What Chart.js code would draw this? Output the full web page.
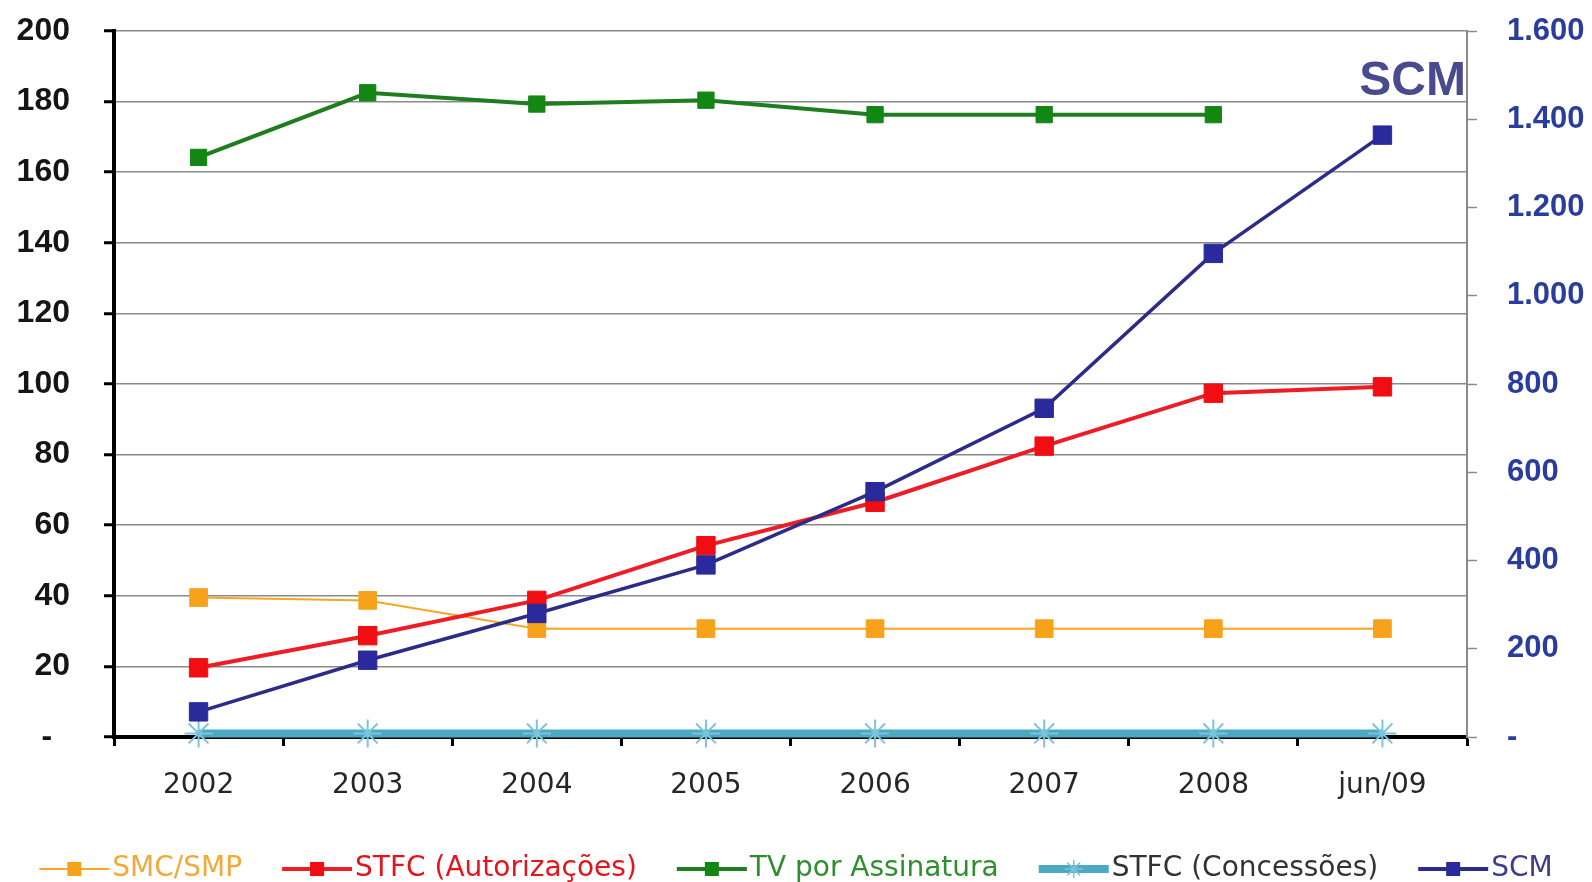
<!DOCTYPE html>
<html><head><meta charset="utf-8">
<script src="https://cdn.jsdelivr.net/npm/chart.js@4.4.1/dist/chart.umd.min.js"></script>
<style>html,body{margin:0;padding:0;background:#fff;} #wrap{width:1592px;height:882px;position:relative;}</style>
</head><body><div id="wrap"><canvas id="c"></canvas></div>
<script>
// ---- data ----
const categories = ['2002','2003','2004','2005','2006','2007','2008','jun/09'];
const seriesNames = ['SMC/SMP','STFC (Autorizações)','TV por Assinatura','STFC (Concessões)','SCM'];
const smcSmp = [39.5, 38.7, 30.7, 30.7, 30.7, 30.7, 30.7, 30.7];
const stfcAutorizacoes = [19.6, 28.7, 38.7, 54.2, 66.5, 82.4, 97.4, 99.2];
const tvAssinatura = [164.2, 182.5, 179.3, 180.4, 176.3, 176.3, 176.3, null];
const stfcConcessoes = [1, 1, 1, 1, 1, 1, 1, 1];
const scm = [57, 174, 280, 390, 556, 745, 1096, 1364];
const leftAxisRange = [0, 200, 20];
const rightAxisRange = [0, 1600, 200];
const cornerLabel = 'SCM';

// ---- styles ----
const legendTextColors = ['#f2a93a', '#e3141c', '#2f8f2f', '#333333', '#3d3d8c'];

function fmtThousands(v){
  if (v === 0) return '-';
  return String(v).replace(/\B(?=(\d{3})+(?!\d))/g, '.');
}

const legendPlugin = {
  id: 'customLegend',
  afterDraw(chart){
    const ctx = chart.ctx;
    ctx.save();
    ctx.font = '28px "DejaVu Sans"';
    ctx.textBaseline = 'middle';
    const lineW = 70, gapText = 3, gapItem = 40;
    const dss = chart.data.datasets;
    const widths = dss.map(ds => ctx.measureText(ds.label).width);
    let total = 0;
    widths.forEach(w => total += lineW + gapText + w);
    total += gapItem * (dss.length - 1);
    let x = (chart.width - total) / 2;
    const y = 869;
    dss.forEach((ds, i) => {
      ctx.strokeStyle = ds.borderColor;
      ctx.lineWidth = ds.legendLineWidth;
      ctx.beginPath(); ctx.moveTo(x, y); ctx.lineTo(x + lineW, y); ctx.stroke();
      const cx = x + lineW / 2;
      if (ds.pointStyle === 'rect') {
        ctx.fillStyle = ds.pointBackgroundColor;
        ctx.fillRect(cx - 7, y - 7, 14, 14);
      } else {
        ctx.strokeStyle = ds.pointBorderColor;
        ctx.lineWidth = 1.5;
        const r = 9;
        for (let k = 0; k < 4; k++) {
          const a = k * Math.PI / 4;
          ctx.beginPath();
          ctx.moveTo(cx - r * Math.sin(a), y - r * Math.cos(a));
          ctx.lineTo(cx + r * Math.sin(a), y + r * Math.cos(a));
          ctx.stroke();
        }
      }
      ctx.fillStyle = legendTextColors[i];
      ctx.textAlign = 'left';
      ctx.fillText(ds.label, x + lineW + gapText, y);
      x += lineW + gapText + widths[i] + gapItem;
    });
    // corner label
    ctx.font = 'bold 48px "Liberation Sans", Arial, sans-serif';
    ctx.fillStyle = '#4a4a8e';
    ctx.textAlign = 'right';
    ctx.textBaseline = 'alphabetic';
    ctx.fillText(cornerLabel, chart.chartArea.right - 1, 95);
    ctx.restore();
  }
};

new Chart(document.getElementById('c'), {
  type: 'line',
  data: {
    labels: categories,
    datasets: [
      { label: seriesNames[0], data: smcSmp, yAxisID: 'y', order: 4,
        borderColor: '#f5a623', borderWidth: 2, legendLineWidth: 2,
        pointStyle: 'rect', pointRadius: 12.5, pointBackgroundColor: '#f7a21b', pointBorderColor: '#f7a21b', pointBorderWidth: 1, clip: false },
      { label: seriesNames[1], data: stfcAutorizacoes, yAxisID: 'y', order: 3,
        borderColor: '#ee1c24', borderWidth: 4, legendLineWidth: 4,
        pointStyle: 'rect', pointRadius: 13, pointBackgroundColor: '#f20d12', pointBorderColor: '#f20d12', pointBorderWidth: 1, clip: false },
      { label: seriesNames[2], data: tvAssinatura, yAxisID: 'y', order: 2,
        borderColor: '#1f7d1f', borderWidth: 4, legendLineWidth: 4,
        pointStyle: 'rect', pointRadius: 11.5, pointBackgroundColor: '#138613', pointBorderColor: '#138613', pointBorderWidth: 1, clip: false },
      { label: seriesNames[3], data: stfcConcessoes, yAxisID: 'y', order: 1,
        borderColor: '#4aa9c3', borderWidth: 8, legendLineWidth: 8,
        pointStyle: 'star', pointRadius: 14, pointBackgroundColor: '#7cc4dc', pointBorderColor: '#7cc4dc', pointBorderWidth: 2, clip: false },
      { label: seriesNames[4], data: scm, yAxisID: 'y1', order: 0,
        borderColor: '#2c2c88', borderWidth: 3.5, legendLineWidth: 4,
        pointStyle: 'rect', pointRadius: 13, pointBackgroundColor: '#2a2a9c', pointBorderColor: '#2a2a9c', pointBorderWidth: 1, clip: false }
    ]
  },
  options: {
    responsive: true,
    maintainAspectRatio: false,
    devicePixelRatio: 1,
    animation: false,
    layout: { padding: { top: 31, left: 0, right: 0, bottom: 0 } },
    plugins: { legend: { display: false }, tooltip: { enabled: false } },
    elements: { line: { tension: 0 } },
    scales: {
      x: {
        offset: true,
        grid: { display: true, offset: true, drawOnChartArea: false, drawTicks: true, tickLength: 9, tickColor: '#000', tickWidth: 3, color: '#000' },
        border: { display: true, color: '#000', width: 4 },
        ticks: { color: '#262626', font: { family: 'DejaVu Sans', size: 28 }, padding: 23, maxRotation: 0, autoSkip: false },
        afterFit(s){ s.height = 145; s.paddingLeft = 0; s.paddingRight = 0; }
      },
      y: {
        position: 'left',
        min: leftAxisRange[0], max: leftAxisRange[1],
        grid: { color: '#8a8a8a', lineWidth: 1.5, drawTicks: true, tickLength: 10, tickColor: '#000', tickWidth: 3 },
        border: { display: true, color: '#000', width: 4 },
        ticks: { stepSize: leftAxisRange[2], color: '#151515', padding: 34,
          font: { family: '"Liberation Sans", Arial, sans-serif', size: 32, weight: 'bold' },
          callback: v => v === 0 ? '-  ' : String(v) },
        afterFit(s){ s.width = 114; s.paddingTop = 0; s.paddingBottom = 0; }
      },
      y1: {
        position: 'right',
        min: rightAxisRange[0], max: rightAxisRange[1],
        grid: { drawOnChartArea: false, drawTicks: true, tickLength: 10, tickColor: '#8a8a8a', tickWidth: 1.5 },
        border: { display: true, color: '#8a8a8a', width: 2 },
        ticks: { stepSize: rightAxisRange[2], color: '#2a3c9e', padding: 30,
          font: { family: '"Liberation Sans", Arial, sans-serif', size: 31, weight: 'bold' },
          callback: v => fmtThousands(v) },
        afterFit(s){ s.width = 125; s.paddingTop = 0; s.paddingBottom = 0; }
      }
    }
  },
  plugins: [legendPlugin]
});
</script>
</body></html>
